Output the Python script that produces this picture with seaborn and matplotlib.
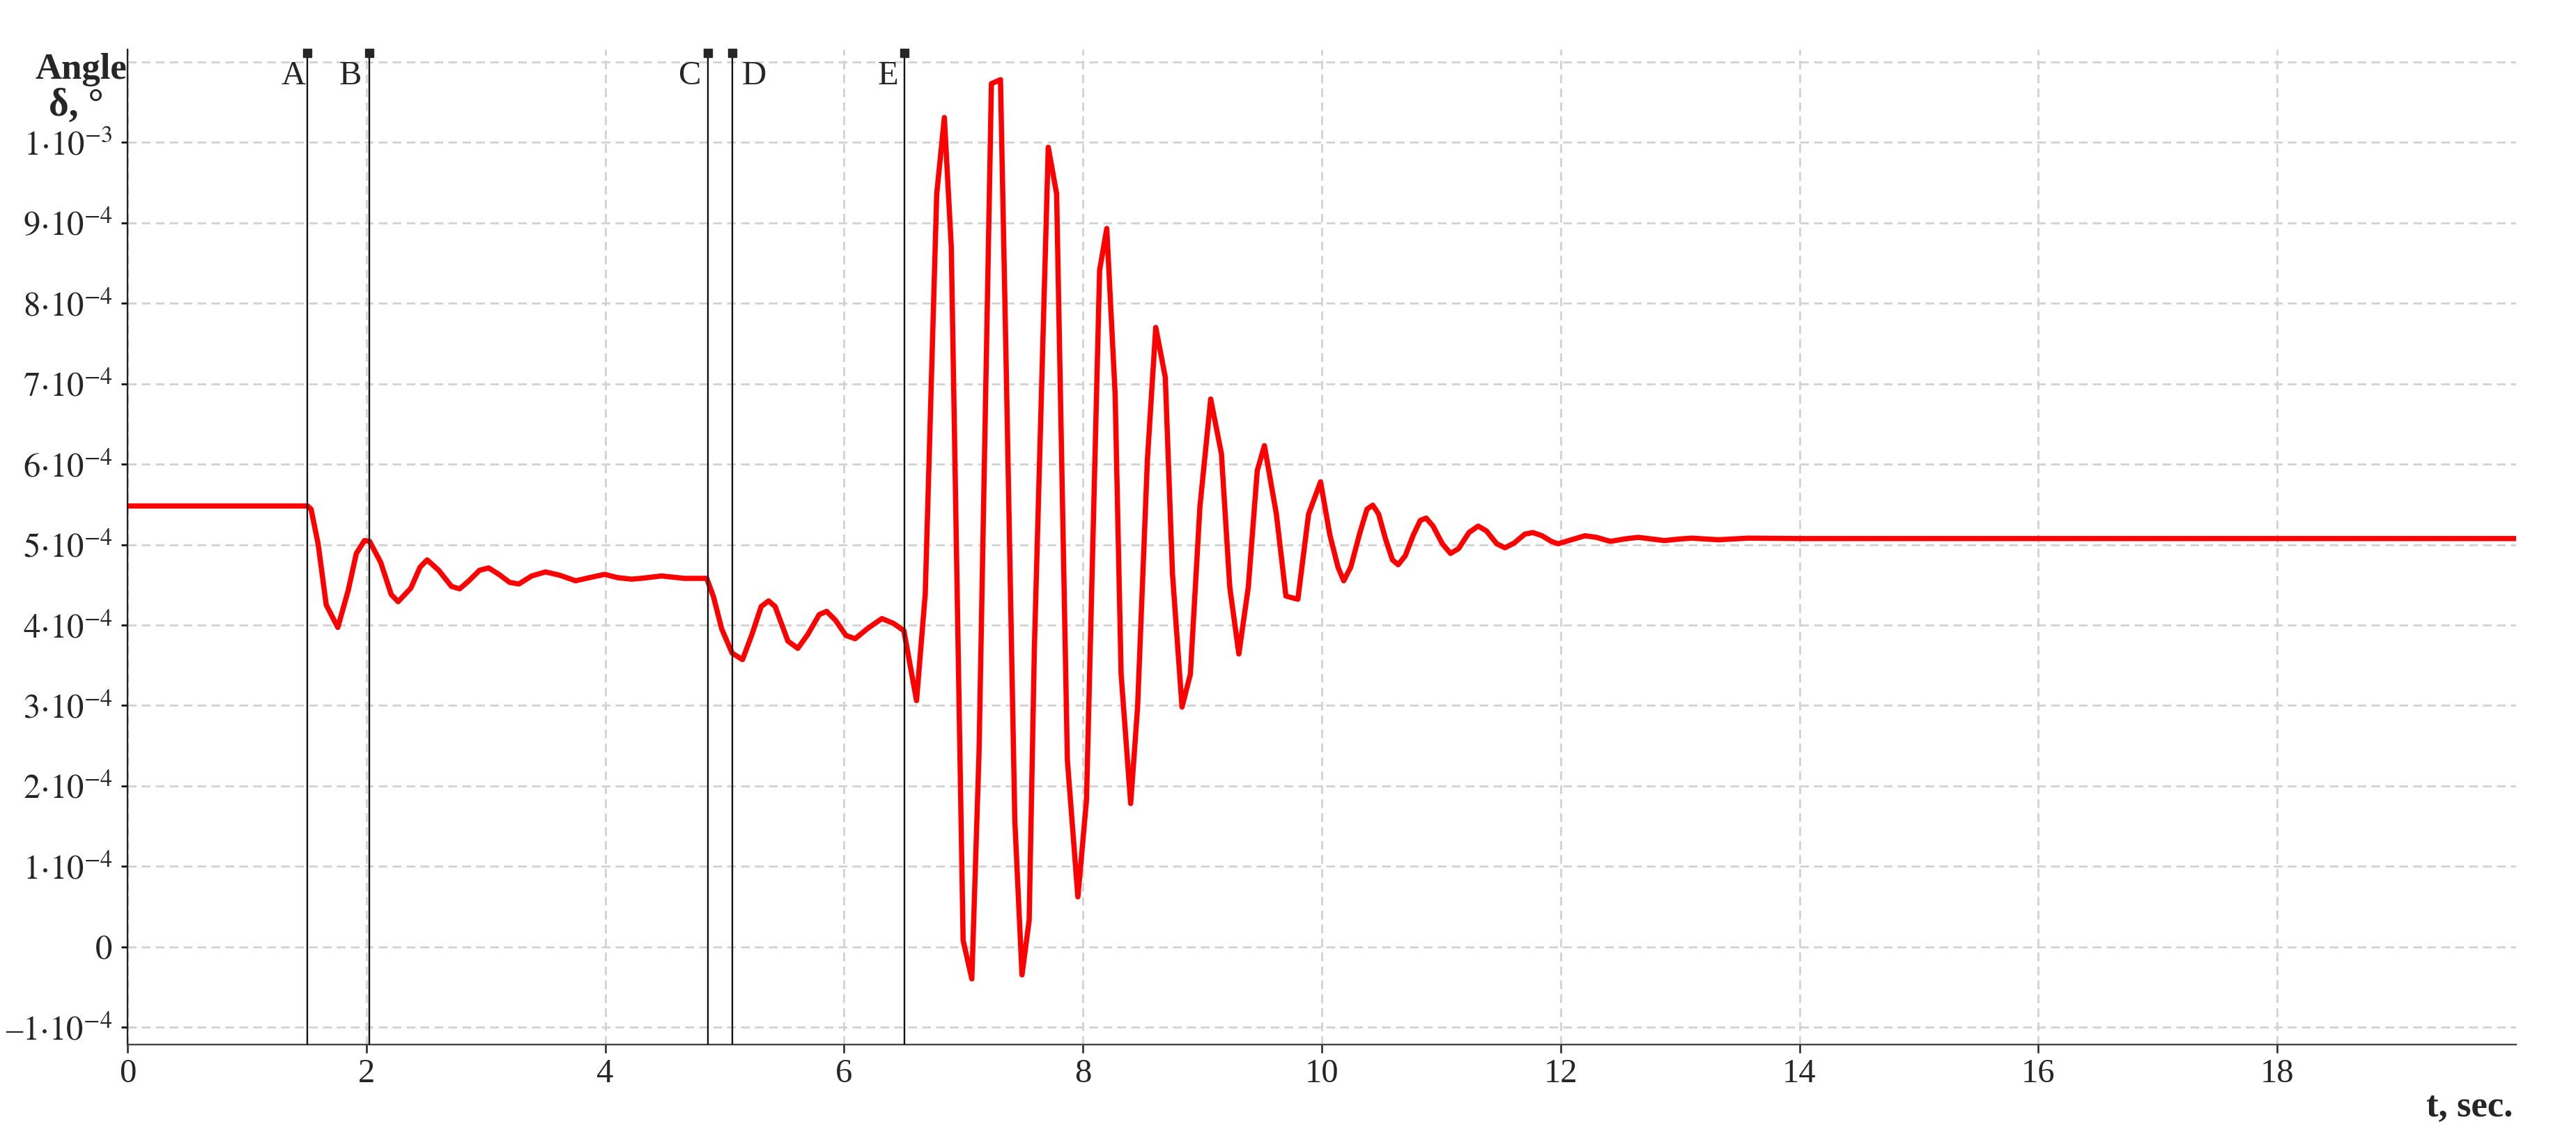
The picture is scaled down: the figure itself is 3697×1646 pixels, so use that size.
import numpy as np
import pandas as pd
import seaborn as sns
import matplotlib.pyplot as plt

# rotor angle transient (angle in units of 1e-4 deg)
time_s = [0.0, 1.508, 1.537, 1.596, 1.664, 1.761, 1.848, 1.916, 1.984, 2.027,
          2.12, 2.208, 2.266, 2.373, 2.45, 2.509, 2.606, 2.713, 2.781, 2.859,
          2.947, 3.024, 3.11, 3.2, 3.277, 3.384, 3.5, 3.617, 3.753, 3.87,
          3.996, 4.10, 4.22, 4.30, 4.47, 4.665, 4.85, 4.907, 4.976, 5.063,
          5.15, 5.228, 5.306, 5.368, 5.423, 5.53, 5.613, 5.695, 5.792, 5.854,
          5.928, 6.016, 6.093, 6.2, 6.317, 6.414, 6.501, 6.607, 6.68, 6.776,
          6.84, 6.898, 6.997, 7.07, 7.13, 7.234, 7.31, 7.36, 7.43, 7.49,
          7.55, 7.594, 7.71, 7.78, 7.87, 7.958, 8.03, 8.14, 8.2, 8.27,
          8.32, 8.40, 8.458, 8.54, 8.61, 8.69, 8.75, 8.83, 8.90, 8.98,
          9.07, 9.16, 9.23, 9.306, 9.385, 9.46, 9.52, 9.62, 9.70, 9.80,
          9.89, 9.99, 10.068, 10.136, 10.184, 10.243, 10.32, 10.379, 10.427, 10.476,
          10.534, 10.592, 10.64, 10.699, 10.767, 10.825, 10.874, 10.932, 11.01, 11.078,
          11.146, 11.233, 11.31, 11.379, 11.466, 11.534, 11.612, 11.70, 11.767, 11.845,
          11.922, 11.98, 12.068, 12.204, 12.30, 12.417, 12.534, 12.65, 12.76, 12.87,
          13.0, 13.10, 13.32, 13.57, 14.0, 20.0]
angle_e4 = [5.48, 5.48, 5.44, 5.01, 4.25, 3.97, 4.43, 4.89, 5.05, 5.04,
            4.78, 4.38, 4.29, 4.46, 4.72, 4.81, 4.68, 4.48, 4.45, 4.55,
            4.68, 4.71, 4.63, 4.53, 4.51, 4.61, 4.66, 4.62, 4.55, 4.59,
            4.63, 4.59, 4.57, 4.58, 4.61, 4.58, 4.58, 4.35, 3.95, 3.65,
            3.57, 3.88, 4.23, 4.30, 4.23, 3.80, 3.71, 3.88, 4.13, 4.17,
            4.06, 3.87, 3.83, 3.96, 4.08, 4.02, 3.93, 3.06, 4.39, 9.36,
            10.31, 8.70, 0.08, -0.40, 2.40, 10.73, 10.78, 7.04, 1.57, -0.35,
            0.33, 3.73, 9.94, 9.36, 2.32, 0.62, 1.82, 8.41, 8.93, 6.87,
            3.39, 1.78, 2.98, 6.05, 7.70, 7.08, 4.64, 2.98, 3.39, 5.47,
            6.81, 6.13, 4.47, 3.64, 4.47, 5.92, 6.23, 5.38, 4.36, 4.32,
            5.38, 5.78, 5.12, 4.72, 4.55, 4.72, 5.15, 5.44, 5.49, 5.38,
            5.07, 4.81, 4.75, 4.86, 5.12, 5.30, 5.33, 5.23, 5.01, 4.89,
            4.95, 5.15, 5.23, 5.17, 5.01, 4.96, 5.02, 5.13, 5.15, 5.11,
            5.04, 5.01, 5.05, 5.11, 5.09, 5.04, 5.07, 5.09, 5.07, 5.05,
            5.07, 5.08, 5.06, 5.08, 5.075, 5.075]

event_times = [1.508, 2.027, 4.859, 5.063, 6.505]
event_names = ["A", "B", "C", "D", "E"]

x_ticks = [0, 2, 4, 6, 8, 10, 12, 14, 16, 18]
y_ticks_e4 = [-1, 0, 1, 2, 3, 4, 5, 6, 7, 8, 9, 10]
y_tick_labels = [r"$–1{\cdot}10^{-4}$", r"$0$", r"$1{\cdot}10^{-4}$", r"$2{\cdot}10^{-4}$",
                 r"$3{\cdot}10^{-4}$", r"$4{\cdot}10^{-4}$", r"$5{\cdot}10^{-4}$",
                 r"$6{\cdot}10^{-4}$", r"$7{\cdot}10^{-4}$", r"$8{\cdot}10^{-4}$",
                 r"$9{\cdot}10^{-4}$", r"$1{\cdot}10^{-3}$"]

df = pd.DataFrame({"t": time_s, "delta": np.array(angle_e4) * 1e-4})

sns.set_style("ticks")
plt.rcParams["font.family"] = ["Liberation Serif", "DejaVu Serif"]
plt.rcParams["mathtext.fontset"] = "stix"

W, H = 3697, 1646
fig = plt.figure(figsize=(36.97, 16.46), dpi=100)
ax = fig.add_axes([0.0495, 0.0893, 0.9272, 0.8676])

ymin, ymax = -1.216e-4, 1.1156e-3
ax.set_xlim(0, 20)
ax.set_ylim(ymin, ymax)

# dashed grid, plus the unlabelled line at 1.1e-3
grid_style = dict(color="#d2d2d2", lw=2.0, linestyle=(0, (4.5, 2.7)), zorder=0)
for xv in x_ticks:
    ax.axvline(xv, **grid_style)
for yv in y_ticks_e4 + [11]:
    ax.axhline(yv * 1e-4, **grid_style)

sns.lineplot(data=df, x="t", y="delta", color="#ff0000", lw=5.4, ax=ax, zorder=2)

# switching events
label_dx = {"A": -2, "B": -8, "C": -7, "D": 10, "E": -6}
for t, name in zip(event_times, event_names):
    ax.axvline(t, color="#111111", lw=1.7, zorder=3)
    ax.plot([t], [ymax - 0.04e-4], marker="s", ms=8, color="#262626",
            clip_on=False, zorder=4)
    dx = label_dx[name]
    ax.annotate(name, (t, 1.072e-3), xytext=(dx, 0), textcoords="offset points",
                ha="right" if dx < 0 else "left", va="baseline", fontsize=35)

ax.set_xticks(x_ticks)
ax.set_xticklabels([str(v) for v in x_ticks])
ax.set_yticks([v * 1e-4 for v in y_ticks_e4])
ax.set_yticklabels(y_tick_labels)
ax.set_xlabel("")
ax.set_ylabel("")

sns.despine(ax=ax)
ax.spines["left"].set_color("#222222")
ax.spines["left"].set_linewidth(1.7)
ax.spines["bottom"].set_color("#444444")
ax.spines["bottom"].set_linewidth(1.7)
ax.tick_params(axis="y", length=6.5, width=2, color="#111111", labelsize=35, pad=9)
ax.tick_params(axis="x", length=8.5, width=1.8, color="#222222", labelsize=35, pad=6)

# axis titles
fig.text(116 / W, 1 - 113 / H, "Angle", ha="center", va="baseline",
         fontweight="bold", fontsize=38)
fig.text(109 / W, 1 - 166 / H, "δ, °", ha="center", va="baseline",
         fontweight="bold", fontsize=40)
fig.text(3607 / W, 1 - 1602 / H, "t, sec.", ha="right", va="baseline",
         fontweight="bold", fontsize=38)

fig.savefig("out.png", dpi=100)
plt.close(fig)
